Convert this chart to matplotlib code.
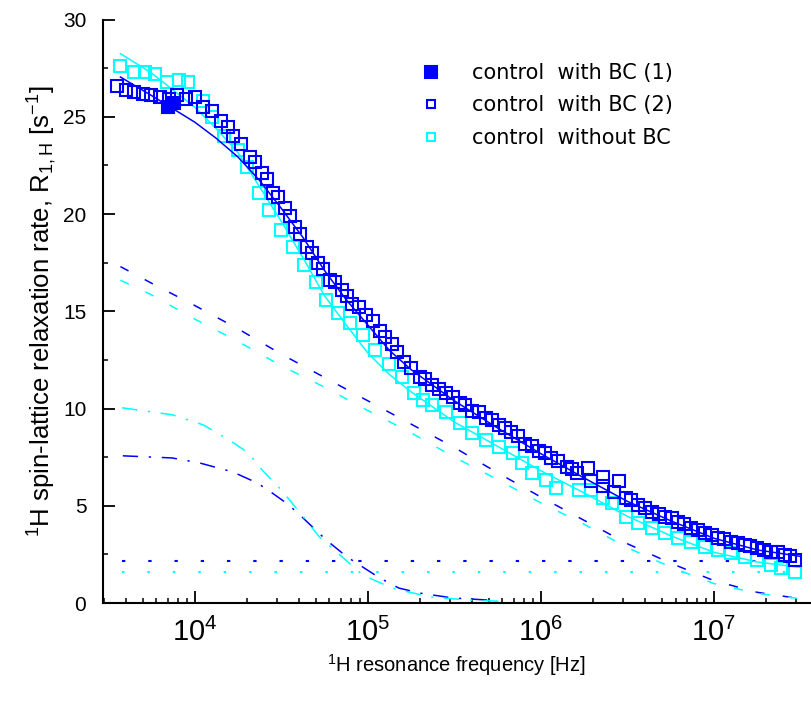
import numpy as np
import matplotlib
matplotlib.use("Agg")
import matplotlib.pyplot as plt

plt.rcParams['font.family'] = ['Liberation Sans', 'DejaVu Sans']
plt.rcParams['mathtext.default'] = 'regular'

# measured data (frequency in Hz, R1 in 1/s)
f_bc1 = [7000, 7600]
r_bc1 = [25.5, 25.7]

f_bc2 = [3550, 4470, 5620, 7080, 8910, 11200, 14100, 16600, 20900, 24500,
         28200, 33100, 38000, 44700, 51300, 60300, 70800, 81300, 97700, 117000,
         138000, 162000, 200000, 234000, 282000, 339000, 398000, 479000, 575000, 676000,
         813000, 977000, 1.15e6, 1.41e6, 1.62e6, 1.95e6, 2.29e6, 2.63e6, 3.09e6, 3.63e6,
         4.37e6, 5.25e6, 6.17e6, 7.41e6, 8.91e6, 1.05e7, 1.26e7, 1.51e7, 1.78e7, 2.14e7,
         2.57e7, 2.95e7, 1.86e6, 2.29e6, 2.82e6,
         3980, 5010, 6310, 7940, 10000, 12600, 15500, 18600, 22400, 26300,
         30200, 35500, 40700, 47900, 55000, 64600, 75900, 89100, 107000, 126000,
         148000, 178000, 214000, 257000, 309000, 363000, 437000, 525000, 617000, 741000,
         891000, 1.05e6, 1.26e6, 1.51e6, 3.31e6, 3.98e6, 4.79e6, 5.75e6, 6.76e6, 8.13e6,
         9.77e6, 1.15e7, 1.38e7, 1.62e7, 1.95e7, 2.34e7, 2.75e7]
r_bc2 = [26.6, 26.3, 26.1, 25.9, 25.9, 25.5, 24.8, 24.0, 22.95, 22.1,
         21.1, 20.3, 19.35, 18.3, 17.5, 16.6, 16.1, 15.4, 14.8, 14.0,
         13.3, 12.4, 11.6, 11.2, 10.8, 10.3, 9.9, 9.5, 9.16, 8.8,
         8.2, 7.8, 7.46, 7.0, 6.7, 6.3, 6.0, 5.7, 5.4, 5.04,
         4.68, 4.43, 4.17, 3.86, 3.6, 3.35, 3.14, 2.99, 2.83, 2.62,
         2.47, 2.21, 6.95, 6.5, 6.3,
         26.4, 26.2, 26.0, 26.1, 26.0, 25.3, 24.5, 23.6, 22.7, 21.8,
         20.9, 19.9, 19.0, 18.0, 17.2, 16.5, 15.8, 15.2, 14.5, 13.7,
         12.9, 12.1, 11.5, 11.0, 10.6, 10.2, 9.8, 9.4, 9.0, 8.6,
         8.1, 7.7, 7.3, 6.9, 5.3, 4.9, 4.6, 4.35, 4.05, 3.75,
         3.5, 3.3, 3.1, 2.95, 2.75, 2.6, 2.4]

f_nobc = [3720, 4470, 5130, 5890, 6920, 8130, 9120, 11200, 12600, 14800,
          17800, 20000, 23400, 26900, 31600, 37200, 42700, 50100, 57500, 67600,
          79400, 93300, 110000, 132000, 158000, 186000, 209000, 234000, 282000, 339000,
          398000, 479000, 575000, 692000, 776000, 891000, 1.07e6, 1.23e6, 1.66e6, 1.95e6,
          2.29e6, 2.57e6, 3.09e6, 3.63e6, 4.37e6, 5.25e6, 6.17e6, 7.41e6, 8.91e6, 1.05e7,
          1.26e7, 1.51e7, 1.78e7, 2.14e7, 2.45e7, 2.95e7]
r_nobc = [27.6, 27.3, 27.3, 27.2, 26.8, 26.9, 26.8, 25.8, 25.0, 24.0,
          23.3, 22.4, 21.1, 20.2, 19.2, 18.3, 17.4, 16.5, 15.6, 14.9,
          14.4, 13.8, 13.0, 12.3, 11.6, 10.8, 10.45, 10.2, 9.8, 9.26,
          8.75, 8.4, 8.03, 7.7, 7.2, 6.7, 6.33, 5.9, 5.8, 5.8,
          5.4, 5.15, 4.43, 4.1, 3.86, 3.6, 3.35, 3.14, 2.88, 2.73,
          2.57, 2.37, 2.21, 1.96, 1.8, 1.6]

# fitted curves and their components
f_fit = [3720, 5620, 10000, 13300, 17800, 23700, 31600, 42200, 56200, 75000,
         100000, 133000, 178000, 316000, 562000, 1e6, 1.78e6, 3.16e6, 5.62e6, 1e7,
         1.78e7, 3.16e7]
fit_bc = [27.05, 26.1, 24.73, 23.9, 22.93, 21.73, 20.3, 18.8, 17.1, 15.6,
          14.3, 13.0, 12.0, 10.4, 9.0, 7.68, 6.43, 5.23, 4.23, 3.33,
          2.73, 2.4]
fit_nobc = [28.25, 27.26, 25.5, 24.4, 23.16, 21.4, 19.63, 17.76, 15.8, 14.3,
            12.86, 11.76, 10.86, 9.31, 8.06, 6.8, 5.66, 4.46, 3.46, 2.61,
            2.11, 1.83]

f_slow = [3720, 5620, 10000, 17800, 31600, 56200, 100000, 178000, 316000, 562000,
          1e6, 1.78e6, 3.16e6, 5.62e6, 1e7, 1.78e7, 3.16e7]
slow_bc = [17.3, 16.45, 15.3, 14.1, 12.8, 11.6, 10.4, 9.2, 8.0, 6.7,
           5.45, 4.25, 3.05, 2.05, 1.15, 0.55, 0.22]
slow_nobc = [16.6, 15.85, 14.6, 13.45, 12.2, 11.1, 9.9, 8.75, 7.5, 6.35,
             5.15, 4.05, 2.85, 1.85, 1.0, 0.5, 0.22]

f_fast_bc = [3840, 7410, 10700, 16600, 22900, 27500, 33100, 38900, 47900, 57500,
             75900, 117000, 151000, 200000, 309000, 501000]
fast_bc = [7.57, 7.46, 7.2, 6.74, 6.18, 5.71, 5.2, 4.68, 3.91, 3.24,
           2.37, 1.29, 0.77, 0.51, 0.26, 0.15]
f_fast_nobc = [3800, 7410, 11200, 15800, 20400, 24500, 31600, 40700, 52500, 66100,
               93300, 138000, 229000, 389000, 631000]
fast_nobc = [10.04, 9.68, 9.16, 8.39, 7.72, 6.84, 5.82, 4.63, 3.40, 2.62,
             1.44, 0.77, 0.31, 0.15, 0.08]

f_const = [3800, 2.95e7]
const_bc = 2.18
const_nobc = 1.61

blue = '#0000ff'
cyan = '#00ffff'

fig = plt.figure(figsize=(8.11, 7.02), dpi=100)
ax = fig.add_axes([0.127, 0.141, 0.872, 0.831])

lw = 1.1
ax.plot(f_slow, slow_bc, color=blue, lw=lw, dashes=(6, 12))
ax.plot(f_slow, slow_nobc, color=cyan, lw=lw, dashes=(6, 12))
ax.plot(f_fast_bc, fast_bc, color=blue, lw=lw, dashes=(10, 7, 1.5, 7))
ax.plot(f_fast_nobc, fast_nobc, color=cyan, lw=lw, dashes=(10, 7, 1.5, 7))
ax.plot(f_const, [const_bc, const_bc], color=blue, lw=1.5, dashes=(1.6, 11))
ax.plot(f_const, [const_nobc, const_nobc], color=cyan, lw=1.5, dashes=(1.2, 11))

ms = 8.8
ax.plot(f_nobc, r_nobc, 's', ms=ms, mfc='none', mec=cyan, mew=1.5,
        label='control  without BC', zorder=3)
ax.plot(f_bc2, r_bc2, 's', ms=ms, mfc='none', mec=blue, mew=1.5,
        label='control  with BC (2)', zorder=4)
ax.plot(f_bc1, r_bc1, 's', ms=ms, mfc=blue, mec=blue, mew=1.5,
        label='control  with BC (1)', zorder=5)
ax.plot(f_fit, fit_bc, color=blue, lw=lw, zorder=6)
ax.plot(f_fit, fit_nobc, color=cyan, lw=lw, zorder=2)

ax.set_xscale('log')
ax.set_xlim(2950, 3.6e7)
ax.set_ylim(0, 30)
ax.set_yticks([0, 5, 10, 15, 20, 25, 30])
ax.set_yticks(np.arange(2.5, 30, 5), minor=True)

for s in ['top', 'right']:
    ax.spines[s].set_visible(False)
for s in ['left', 'bottom']:
    ax.spines[s].set_linewidth(1.5)
ax.tick_params(which='major', direction='in', length=8.5, width=1.3)
ax.tick_params(which='minor', direction='in', length=3.5, width=1.1)
ax.tick_params(axis='y', labelsize=15, pad=12)
ax.tick_params(axis='x', labelsize=21, pad=11)

ax.set_xlabel('$^{1}$H resonance frequency [Hz]', fontsize=14.5, labelpad=3)
ax.set_ylabel('$^{1}$H spin-lattice relaxation rate, R$_{1,H}$ [s$^{-1}$]',
              fontsize=18.5, labelpad=3)

h, l = ax.get_legend_handles_labels()
leg = ax.legend(h[::-1], l[::-1], loc='upper left', bbox_to_anchor=(0.437, 0.94),
                frameon=False, prop={'family': 'DejaVu Sans', 'size': 15},
                handlelength=1.0, handletextpad=1.5, labelspacing=0.6,
                borderaxespad=0, numpoints=1)
leg.legend_handles[1].set_markersize(6)
leg.legend_handles[2].set_markersize(6)

fig.savefig('out.png', dpi=100)
